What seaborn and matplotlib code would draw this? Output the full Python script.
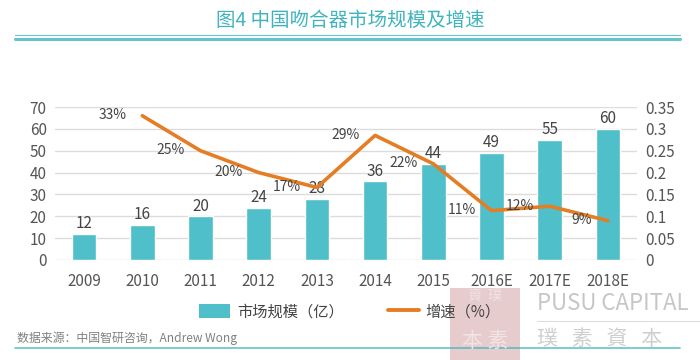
import matplotlib
matplotlib.use("Agg")
import matplotlib.pyplot as plt
import seaborn as sns
import numpy as np
import pandas as pd
from matplotlib.lines import Line2D
from matplotlib.patches import Patch, Rectangle

# data
years = ["2009", "2010", "2011", "2012", "2013", "2014", "2015", "2016E", "2017E", "2018E"]
market_size = [12, 16, 20, 24, 28, 36, 44, 49, 55, 60]
growth_years = ["2010", "2011", "2012", "2013", "2014", "2015", "2016E", "2017E", "2018E"]
growth = [0.33, 0.25, 0.20, 0.166, 0.285, 0.22, 0.113, 0.123, 0.09]
growth_labels = ["33%", "25%", "20%", "17%", "29%", "22%", "11%", "12%", "9%"]

BAR = "#4fbfca"
LINE = "#e57d25"
TEAL = "#3fb4be"
TXT = "#555555"

sns.set_theme(style="white")
plt.rcParams["font.family"] = ["Noto Sans CJK SC", "DejaVu Sans"]

fig = plt.figure(figsize=(7, 3.6), dpi=100)
ax = fig.add_axes([55 / 700, 1 - 260 / 360, 582 / 700, 153 / 360])

df = pd.DataFrame({"year": years, "size": market_size})
sns.barplot(data=df, x="year", y="size", color=BAR, width=0.42, saturation=1, ax=ax)
ax.set_xlim(-0.5, len(years) - 0.5)
ax.set_ylim(0, 70)
ax.set_yticks(range(0, 71, 10))
ax.yaxis.grid(True, color="#dcdcdc", linewidth=1)
ax.set_axisbelow(True)
for s in ax.spines.values():
    s.set_visible(False)
ax.set_xlabel("")
ax.set_ylabel("")
ax.tick_params(axis="both", length=0, labelsize=11, labelcolor=TXT, pad=6)
ax.tick_params(axis="x", pad=9)
for i, v in enumerate(market_size):
    ax.text(i, v + 0.8, str(v), ha="center", va="bottom", fontsize=11, color="#444444")

ax2 = ax.twinx()
gx = [years.index(y) for y in growth_years]
sns.lineplot(x=gx, y=growth, color=LINE, linewidth=2.6, ax=ax2)
ax2.set_ylim(0, 0.35)
ax2.set_yticks(np.arange(0, 0.351, 0.05))
ax2.set_yticklabels(["0", "0.05", "0.1", "0.15", "0.2", "0.25", "0.3", "0.35"])
for s in ax2.spines.values():
    s.set_visible(False)
ax2.tick_params(axis="y", length=0, labelsize=11, labelcolor=TXT, pad=6)
ax2.set_xlim(-0.5, len(years) - 0.5)
for x, v, lab in zip(gx, growth, growth_labels):
    ax2.text(x - 0.27, v + 0.001, lab, ha="right", va="center", fontsize=10, color="#444444")

# title and rules
fig.text(0.5, 1 - 20 / 360, "图4 中国吻合器市场规模及增速", ha="center", va="center",
         fontsize=14, color=TEAL)
fig.add_artist(Line2D([15 / 700, 680 / 700], [1 - 35 / 360] * 2, color=TEAL, lw=0.8, alpha=0.8))
fig.add_artist(Line2D([15 / 700, 680 / 700], [1 - 38.5 / 360] * 2, color=TEAL, lw=2.2, alpha=0.8))

# legend
handles = [Patch(facecolor=BAR, edgecolor="none"), Line2D([0], [0], color=LINE, lw=2.8)]
fig.legend(handles, ["市场规模（亿）", "增速（%）"], loc="center", ncol=2, frameon=False,
           bbox_to_anchor=(350 / 700, 1 - 312 / 360), fontsize=11, labelcolor="#444444",
           handlelength=2.0, handleheight=1.0, columnspacing=2.9, handletextpad=0.45)

# source note
fig.text(17 / 700, 1 - 338 / 360, "数据来源：中国智研咨询，Andrew Wong", ha="left", va="center",
         fontsize=8.6, color="#808080")

# watermark
fig.add_artist(Rectangle((450 / 700, 0), 70 / 700, 1 - 288 / 360, transform=fig.transFigure,
                         facecolor="#cf9a9a", alpha=0.5, edgecolor="none"))
fig.text(485 / 700, 1 - 296 / 360, "資  璞", ha="center", va="center", fontsize=10,
         color="#f3e3e3")
fig.text(485 / 700, 1 - 341 / 360, "本 素", ha="center", va="center", fontsize=15,
         color="#f3e3e3")
fig.text(537 / 700, 1 - 304 / 360, "PUSU CAPITAL", ha="left", va="center", fontsize=16,
         color="#c6c6c6")
fig.add_artist(Line2D([537 / 700, 1], [1 - 321 / 360] * 2, color="#dddddd", lw=0.8))
fig.text(537 / 700, 1 - 339 / 360, "璞   素   資   本", ha="left", va="center", fontsize=15,
         color="#cfcfcf")

fig.add_artist(Line2D([15 / 700, 680 / 700], [1 - 348 / 360] * 2, color=TEAL, lw=1.2, alpha=0.8))

fig.savefig("out.png", dpi=100)
